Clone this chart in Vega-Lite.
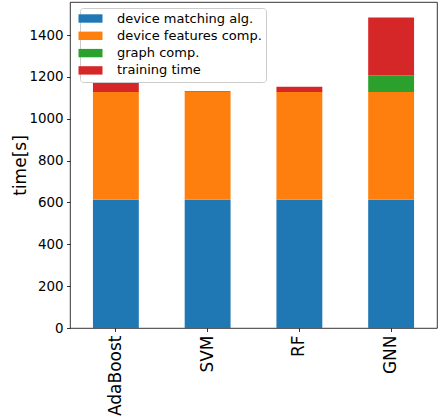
{
  "$schema": "https://vega.github.io/schema/vega-lite/v6.json",
  "width": 367,
  "height": 326,
  "autosize": {"type": "none"},
  "padding": {"left": 70, "top": 2, "right": 1, "bottom": 91},
  "background": "white",
  "config": {
    "font": "DejaVu Sans",
    "view": {"stroke": "black", "strokeWidth": 0.8},
    "axis": {
      "domainColor": "black",
      "domainWidth": 0.8,
      "tickColor": "black",
      "tickWidth": 0.8,
      "tickSize": 3.5,
      "labelPadding": 3.5,
      "labelColor": "black",
      "titleColor": "black",
      "grid": false
    }
  },
  "data": {
    "values": [
      {"model": "AdaBoost", "part": "device matching alg.", "order": 0, "time": 613},
      {"model": "AdaBoost", "part": "device features comp.", "order": 1, "time": 515},
      {"model": "AdaBoost", "part": "graph comp.", "order": 2, "time": 0},
      {"model": "AdaBoost", "part": "training time", "order": 3, "time": 43},
      {"model": "SVM", "part": "device matching alg.", "order": 0, "time": 613},
      {"model": "SVM", "part": "device features comp.", "order": 1, "time": 515},
      {"model": "SVM", "part": "graph comp.", "order": 2, "time": 0},
      {"model": "SVM", "part": "training time", "order": 3, "time": 3},
      {"model": "RF", "part": "device matching alg.", "order": 0, "time": 613},
      {"model": "RF", "part": "device features comp.", "order": 1, "time": 515},
      {"model": "RF", "part": "graph comp.", "order": 2, "time": 0},
      {"model": "RF", "part": "training time", "order": 3, "time": 25},
      {"model": "GNN", "part": "device matching alg.", "order": 0, "time": 613},
      {"model": "GNN", "part": "device features comp.", "order": 1, "time": 515},
      {"model": "GNN", "part": "graph comp.", "order": 2, "time": 79},
      {"model": "GNN", "part": "training time", "order": 3, "time": 277}
    ]
  },
  "mark": {"type": "bar"},
  "encoding": {
    "x": {
      "field": "model",
      "type": "nominal",
      "sort": ["AdaBoost", "SVM", "RF", "GNN"],
      "scale": {"paddingInner": 0.5, "paddingOuter": 0.25},
      "axis": {
        "title": null,
        "labelAngle": -90,
        "labelFontSize": 17,
        "labelAlign": "right",
        "labelBaseline": "middle",
        "domain": false
      }
    },
    "y": {
      "field": "time",
      "type": "quantitative",
      "stack": "zero",
      "scale": {"domain": [0, 1558], "nice": false},
      "axis": {
        "title": "time[s]",
        "titleFontSize": 17,
        "titleFontWeight": "normal",
        "titleX": -58,
        "titleAlign": "center",
        "titleBaseline": "top",
        "format": "d",
        "labelFontSize": 13.4,
        "values": [0, 200, 400, 600, 800, 1000, 1200, 1400],
        "domain": false
      }
    },
    "order": {"field": "order", "type": "quantitative"},
    "color": {
      "field": "part",
      "type": "nominal",
      "sort": ["device matching alg.", "device features comp.", "graph comp.", "training time"],
      "scale": {
        "domain": ["device matching alg.", "device features comp.", "graph comp.", "training time"],
        "range": ["#1f77b4", "#ff7f0e", "#2ca02c", "#d62728"]
      },
      "legend": {
        "title": null,
        "orient": "none",
        "legendX": 10,
        "legendY": 6,
        "labelFontSize": 13,
        "labelColor": "black",
        "symbolType": "M-2,-0.7H2V0.7H-2Z",
        "symbolSize": 144,
        "symbolStrokeWidth": 0,
        "symbolOpacity": 1,
        "labelOffset": 20,
        "rowPadding": 3.3,
        "padding": 4,
        "strokeColor": "#cccccc",
        "fillColor": "white",
        "cornerRadius": 3
      }
    }
  }
}
